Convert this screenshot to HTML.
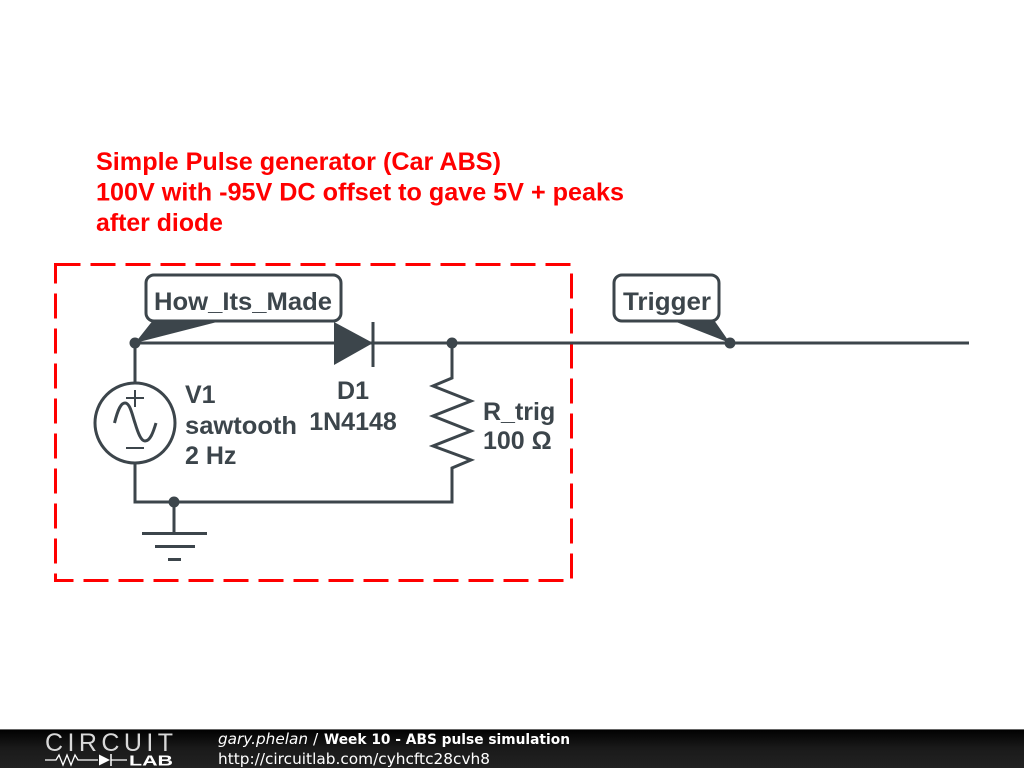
<!DOCTYPE html>
<html><head><meta charset="utf-8"><style>
html,body{margin:0;padding:0;background:#fff;width:1024px;height:768px;overflow:hidden}
svg{display:block}
</style></head><body>
<svg width="1024" height="768" viewBox="0 0 1024 768" xmlns="http://www.w3.org/2000/svg">
<defs><linearGradient id="b" x1="0" y1="0" x2="0" y2="1"><stop offset="0" stop-color="#000"/><stop offset="0.5" stop-color="#1a1a1a"/><stop offset="1" stop-color="#222"/></linearGradient></defs>
<rect width="1024" height="768" fill="#fff"/>
<g font-family="'Liberation Sans',sans-serif" font-weight="bold" font-size="25" fill="#ff0000">
<text x="96" y="170" textLength="405" lengthAdjust="spacingAndGlyphs">Simple Pulse generator (Car ABS)</text>
<text x="96" y="200.500" textLength="528" lengthAdjust="spacingAndGlyphs">100V with -95V DC offset to gave 5V + peaks</text>
<text x="96" y="231" textLength="127" lengthAdjust="spacingAndGlyphs">after diode</text>
</g>
<rect x="55.500" y="264.500" width="516" height="316" fill="none" stroke="#ff0000" stroke-width="3" stroke-dasharray="25 10"/>
<g fill="none" stroke="#3c454b" stroke-width="3">
<path d="M135 343H969"/>
<path d="M135 343V383M135 463V502H452V468L471 460 433 446 471 431 433 416 471 401 433 386 452 378V343" stroke-linejoin="miter"/>
<circle cx="135" cy="423" r="40"/>
<path d="M126 398H144M135 390V407M126 448H144" stroke-width="2"/>
<path d="M114.500 423C118 409 121 403 125 403C130 403 132 414 135 423C138 433 141 441 145 441C150 441 153 433 156 423" stroke-width="3"/>
<path d="M174 502V533M142 533.500H207M155 546.500H195M168 559.500H181"/>
<path d="M373 322V367"/>
<rect x="146" y="275" width="195" height="46" rx="8" fill="#fff"/>
<rect x="614" y="275" width="105" height="46" rx="8" fill="#fff"/>
</g>
<g fill="#3c454b">
<path d="M334 322L373 343 334 365Z"/>
<path d="M135 343L152 321.500H219Z"/>
<path d="M730 343L715 321.500H675Z"/>
<circle cx="135" cy="343" r="5.500"/><circle cx="452" cy="343" r="5.500"/><circle cx="730" cy="343" r="5.500"/><circle cx="174" cy="502" r="5.500"/>
</g>
<g font-family="'Liberation Sans',sans-serif" font-weight="bold" font-size="25" fill="#3c454b">
<text x="154" y="310" textLength="178" lengthAdjust="spacingAndGlyphs">How_Its_Made</text>
<text x="623" y="310" textLength="88" lengthAdjust="spacingAndGlyphs">Trigger</text>
<text x="185" y="403">V1</text>
<text x="185" y="434" textLength="112" lengthAdjust="spacingAndGlyphs">sawtooth</text>
<text x="185" y="464">2 Hz</text>
<text x="353" y="399" text-anchor="middle">D1</text>
<text x="353" y="430" text-anchor="middle">1N4148</text>
<text x="483" y="420">R_trig</text>
<text x="483" y="449">100 Ω</text>
</g>
<rect y="729" width="1024" height="39" fill="url(#b)"/>
<rect y="729" width="1024" height="1" fill="#666"/>
<text x="45" y="751" font-family="'Liberation Sans',sans-serif" font-size="25" fill="#d8d8d8" textLength="128" lengthAdjust="spacing">CIRCUIT</text>
<path d="M45 760H56L59 755 63 765 67 755 71 765 75 755 78 760H98M111 760H127" fill="none" stroke="#fff" stroke-width="1.300"/>
<path d="M99 754.500L110 760 99 765.500Z" fill="#fff"/><path d="M111 754V766" stroke="#fff" stroke-width="1.500"/>
<text x="129" y="765.500" font-family="'Liberation Sans',sans-serif" font-weight="bold" font-size="15" fill="#fff" textLength="44" lengthAdjust="spacingAndGlyphs">LAB</text>
<g font-family="'DejaVu Sans',sans-serif" fill="#fff">
<text x="218" y="744" font-size="15.300" font-style="italic" textLength="90" lengthAdjust="spacingAndGlyphs">gary.phelan</text>
<text x="313" y="744" font-size="15.300">/</text>
<text x="324" y="744" font-size="14" font-weight="bold" textLength="246" lengthAdjust="spacingAndGlyphs">Week 10 - ABS pulse simulation</text>
<text x="218" y="764" font-size="15.300" textLength="272" lengthAdjust="spacingAndGlyphs">http://circuitlab.com/cyhcftc28cvh8</text>
</g>
</svg>
</body></html>
